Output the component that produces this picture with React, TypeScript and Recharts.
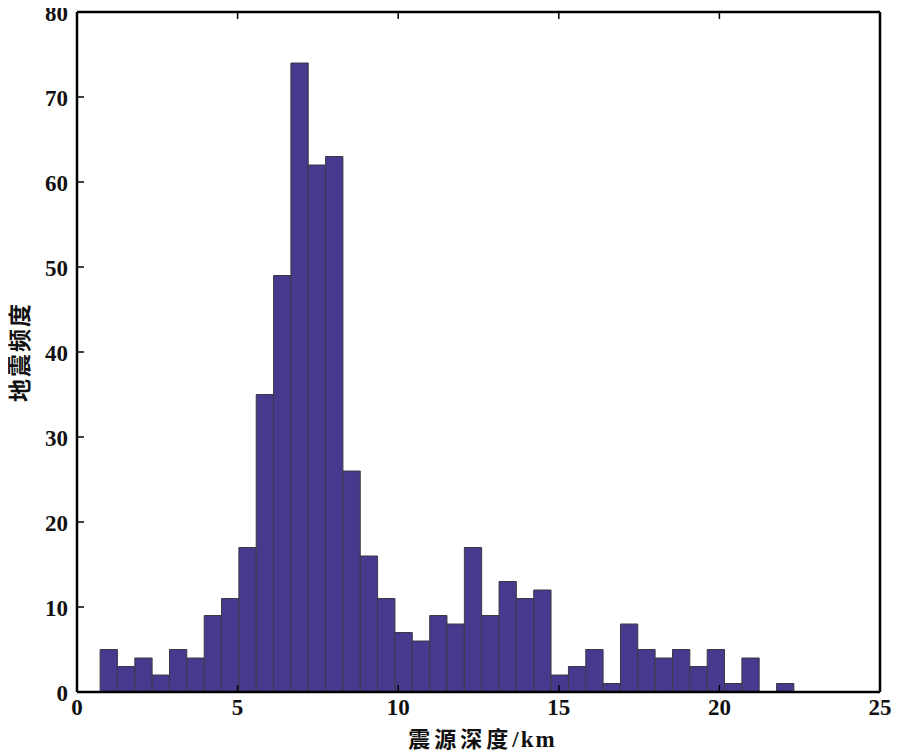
import React from 'react';
import { BarChart, Bar, XAxis, YAxis } from 'recharts';

// centres of the 40 histogram bins (km)
const depthBins: number[] = [
  0.99, 1.53, 2.07, 2.61, 3.15, 3.69, 4.23, 4.77, 5.31, 5.85,
  6.39, 6.93, 7.47, 8.01, 8.55, 9.09, 9.63, 10.17, 10.71, 11.25,
  11.79, 12.33, 12.87, 13.41, 13.95, 14.49, 15.03, 15.57, 16.11, 16.65,
  17.19, 17.73, 18.27, 18.81, 19.35, 19.89, 20.43, 20.97, 21.51, 22.05,
];

const counts: number[] = [
  5, 3, 4, 2, 5, 4, 9, 11, 17, 35,
  49, 74, 62, 63, 26, 16, 11, 7, 6, 9,
  8, 17, 9, 13, 11, 12, 2, 3, 5, 1,
  8, 5, 4, 5, 3, 5, 1, 4, 0, 1,
];

const xTicks = [0, 5, 10, 15, 20, 25];
const yTicks = [0, 10, 20, 30, 40, 50, 60, 70, 80];

const xLabelCjk = '震源深度';
const xLabelUnit = '/km';
const yLabel = '地震频度';

const data = depthBins.map((d, i) => ({ depth: d, count: counts[i] }));

const TICK_FONT = '"Liberation Serif", "DejaVu Serif", serif';
const CJK_FONT = '"Noto Sans CJK SC", "Liberation Serif", serif';
const TICK_LEN = 7;

const BottomTick = (props: any) => {
  const { x, y, payload } = props;
  return (
    <g>
      <line x1={x} y1={y} x2={x} y2={y - TICK_LEN} stroke="#000" strokeWidth={1.5} />
      <text x={x} y={y + 23} textAnchor="middle" fontFamily={TICK_FONT} fontWeight="bold" fontSize={23} fill="#111">
        {payload.value}
      </text>
    </g>
  );
};

const TopTick = (props: any) => {
  const { x, y } = props;
  return <line x1={x} y1={y} x2={x} y2={y + TICK_LEN} stroke="#000" strokeWidth={1.5} />;
};

const LeftTick = (props: any) => {
  const { x, y, payload } = props;
  return (
    <g>
      <line x1={x} y1={y} x2={x + TICK_LEN} y2={y} stroke="#000" strokeWidth={1.5} />
      <text x={x - 9} y={y + 9} textAnchor="end" fontFamily={TICK_FONT} fontWeight="bold" fontSize={23} fill="#111">
        {payload.value}
      </text>
    </g>
  );
};

const RightTick = (props: any) => {
  const { x, y } = props;
  return <line x1={x} y1={y} x2={x - TICK_LEN} y2={y} stroke="#000" strokeWidth={1.5} />;
};

const XTitle = (props: any) => {
  const { viewBox } = props;
  const cx = viewBox.x + viewBox.width / 2;
  return (
    <text x={cx + 4} y={viewBox.y + 55} textAnchor="middle" fill="#111" fontWeight="bold">
      <tspan fontFamily={CJK_FONT} fontSize={22} letterSpacing={4}>{xLabelCjk}</tspan>
      <tspan fontFamily={TICK_FONT} fontSize={23} letterSpacing={2}>{xLabelUnit}</tspan>
    </text>
  );
};

const YTitle = (props: any) => {
  const { viewBox } = props;
  const cy = viewBox.y + viewBox.height / 2;
  const cx = 18;
  return (
    <text
      x={cx}
      y={cy}
      transform={`rotate(-90 ${cx} ${cy})`}
      textAnchor="middle"
      dominantBaseline="central"
      fontFamily={CJK_FONT}
      fontWeight="bold"
      fontSize={23}
      letterSpacing={2}
      fill="#111"
    >
      {yLabel}
    </text>
  );
};

const App: React.FC = () => {
  return (
    <div style={{ position: 'relative', left: -8, top: -8, width: 900, height: 753, background: '#fff' }}>
      <BarChart width={900} height={753} data={data} margin={{ top: 0, right: 0, left: 0, bottom: 0 }}>
        <XAxis
          dataKey="depth"
          type="number"
          domain={[0, 25]}
          ticks={xTicks}
          interval={0}
          height={61}
          tickSize={0}
          tickMargin={0}
          tickLine={false}
          tick={<BottomTick />}
          axisLine={{ stroke: '#000', strokeWidth: 2.5 }}
          label={<XTitle />}
        />
        <XAxis
          xAxisId="top"
          dataKey="depth"
          orientation="top"
          type="number"
          domain={[0, 25]}
          ticks={xTicks}
          interval={0}
          height={12}
          tickSize={0}
          tickMargin={0}
          tickLine={false}
          tick={<TopTick />}
          axisLine={{ stroke: '#000', strokeWidth: 2.5 }}
        />
        <YAxis
          type="number"
          domain={[0, 80]}
          ticks={yTicks}
          interval={0}
          width={77}
          tickSize={0}
          tickMargin={0}
          tickLine={false}
          tick={<LeftTick />}
          axisLine={{ stroke: '#000', strokeWidth: 2.5 }}
          label={<YTitle />}
        />
        <YAxis
          yAxisId="right"
          orientation="right"
          type="number"
          domain={[0, 80]}
          ticks={yTicks}
          interval={0}
          width={20}
          tickSize={0}
          tickMargin={0}
          tickLine={false}
          tick={<RightTick />}
          axisLine={{ stroke: '#000', strokeWidth: 2.5 }}
        />
        <Bar
          dataKey="count"
          fill="#463a8e"
          stroke="#3a3a46"
          strokeWidth={1}
          barSize={17.3}
          isAnimationActive={false}
        />
      </BarChart>
    </div>
  );
};

export default App;
